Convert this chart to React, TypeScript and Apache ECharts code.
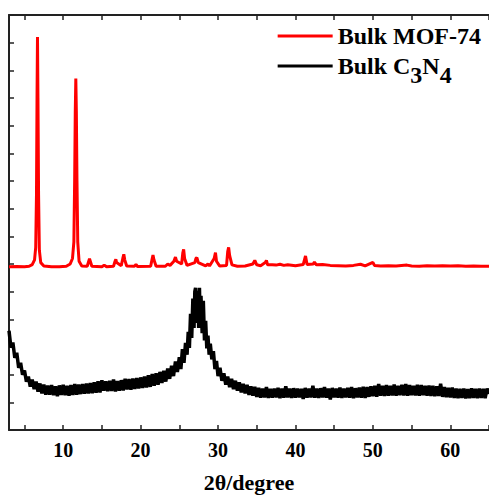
import React, { useEffect, useRef } from "react";
import * as echarts from "echarts";

const FONT = "'Liberation Serif', 'Times New Roman', serif";

const xTickValues = [5, 10, 15, 20, 25, 30, 35, 40, 45, 50, 55, 60, 65];
const xLabelValues = [10, 20, 30, 40, 50, 60];
const seriesNames = ["Bulk MOF-74", "Bulk C3N4"];

const mof74: number[][] = [
  [3.0, 5.9], [4.0, 5.91], [5.0, 5.9], [5.6, 5.92], [6.0, 5.98], [6.3, 6.15], [6.45, 6.6], [6.55, 8.5],
  [6.62, 12.0], [6.68, 14.2], [6.74, 12.0], [6.82, 8.5], [6.92, 6.5], [7.1, 6.05], [7.5, 5.93], [8.5, 5.9],
  [9.5, 5.9], [10.4, 5.92], [10.9, 6.0], [11.2, 6.2], [11.38, 6.8], [11.48, 9.0], [11.56, 11.5], [11.63, 12.7],
  [11.7, 11.5], [11.78, 9.0], [11.88, 6.8], [12.05, 6.1], [12.4, 5.93], [13.1, 5.92], [13.3, 6.1], [13.4, 6.19],
  [13.5, 6.1], [13.7, 5.92], [15.0, 5.9], [15.3, 5.96], [15.6, 5.9], [16.5, 5.92], [16.7, 6.1], [16.8, 6.17],
  [16.9, 6.05], [17.5, 5.94], [17.7, 6.2], [17.83, 6.35], [17.95, 6.15], [18.2, 5.93], [19.2, 5.92], [19.4, 5.98],
  [19.6, 5.91], [21.3, 5.92], [21.5, 6.2], [21.6, 6.32], [21.72, 6.15], [22.0, 5.92], [23.2, 5.92], [23.5, 6.0],
  [23.8, 5.95], [24.3, 6.1], [24.5, 6.25], [24.65, 6.1], [25.3, 6.0], [25.45, 6.4], [25.56, 6.53], [25.68, 6.2],
  [26.0, 5.95], [27.0, 6.05], [27.15, 6.2], [27.27, 6.23], [27.45, 6.05], [28.4, 5.93], [28.7, 6.0], [28.9, 5.93],
  [29.5, 6.2], [29.67, 6.41], [29.8, 6.1], [30.2, 5.93], [31.1, 5.95], [31.25, 6.45], [31.37, 6.6], [31.5, 6.3],
  [31.8, 5.97], [32.5, 5.92], [33.5, 5.93], [34.5, 6.0], [34.75, 6.13], [35.0, 5.97], [35.5, 5.94], [36.1, 6.05],
  [36.25, 6.13], [36.4, 5.97], [37.0, 5.97], [37.5, 5.96], [38.0, 5.99], [38.5, 5.95], [39.0, 5.97], [40.0, 5.94],
  [41.0, 5.98], [41.3, 6.29], [41.5, 5.98], [42.3, 6.0], [42.45, 6.07], [42.7, 5.97], [43.5, 5.98], [44.5, 5.95],
  [45.5, 5.94], [46.5, 5.93], [47.5, 5.95], [48.4, 5.99], [49.0, 5.93], [50.0, 6.06], [50.2, 5.95], [51.0, 5.93],
  [52.0, 5.94], [53.0, 5.93], [54.4, 5.96], [55.0, 5.93], [56.0, 5.92], [57.0, 5.94], [58.0, 5.93], [59.0, 5.94],
  [60.0, 5.93], [61.0, 5.94], [62.0, 5.92], [63.0, 5.93], [64.0, 5.92], [65.0, 5.92],
];

const c3n4: number[][] = [
  [3.0, 3.59], [3.25, 2.98], [3.5, 3.16], [3.75, 2.61], [4.0, 2.79], [4.25, 2.25], [4.5, 2.43], [4.75, 2.0],
  [5.0, 2.15], [5.25, 1.75], [5.5, 1.93], [5.75, 1.57], [6.0, 1.82], [6.25, 1.48], [6.5, 1.75], [6.75, 1.39],
  [7.0, 1.68], [7.25, 1.32], [7.5, 1.64], [7.75, 1.28], [8.0, 1.6], [8.25, 1.28], [8.5, 1.62], [8.75, 1.26],
  [9.0, 1.58], [9.25, 1.22], [9.5, 1.61], [9.75, 1.27], [10.0, 1.63], [10.25, 1.26], [10.5, 1.6], [10.75, 1.24],
  [11.0, 1.62], [11.25, 1.27], [11.5, 1.66], [11.75, 1.28], [12.0, 1.64], [12.25, 1.3], [12.5, 1.66], [12.75, 1.31],
  [13.0, 1.68], [13.25, 1.32], [13.5, 1.7], [13.75, 1.33], [14.0, 1.72], [14.25, 1.35], [14.5, 1.76], [14.75, 1.36],
  [15.0, 1.8], [15.25, 1.42], [15.5, 1.76], [15.75, 1.4], [16.0, 1.78], [16.25, 1.41], [16.5, 1.82], [16.75, 1.39],
  [17.0, 1.77], [17.25, 1.42], [17.5, 1.8], [17.75, 1.43], [18.0, 1.85], [18.25, 1.47], [18.5, 1.84], [18.75, 1.46],
  [19.0, 1.86], [19.25, 1.48], [19.5, 1.88], [19.75, 1.5], [20.0, 1.9], [20.25, 1.52], [20.5, 1.93], [20.75, 1.54],
  [21.0, 1.98], [21.25, 1.56], [21.5, 2.02], [21.75, 1.6], [22.0, 2.05], [22.25, 1.64], [22.5, 2.1], [22.75, 1.7],
  [23.0, 2.14], [23.25, 1.75], [23.5, 2.22], [23.75, 1.85], [24.0, 2.32], [24.25, 1.95], [24.5, 2.48], [24.75, 2.1],
  [25.0, 2.63], [25.2, 2.2], [25.4, 2.92], [25.6, 2.43], [25.8, 3.15], [26.0, 2.72], [26.15, 3.55], [26.3, 2.97],
  [26.45, 4.2], [26.6, 3.33], [26.75, 4.75], [26.9, 3.69], [27.0, 5.0], [27.1, 5.14], [27.2, 3.87], [27.3, 4.9],
  [27.4, 5.03], [27.5, 3.69], [27.6, 5.14], [27.7, 3.8], [27.8, 4.85], [27.95, 3.5], [28.1, 4.67], [28.25, 3.24],
  [28.4, 3.95], [28.55, 2.95], [28.7, 3.41], [28.85, 2.72], [29.0, 3.12], [29.2, 2.55], [29.4, 2.85], [29.6, 2.2],
  [29.8, 2.5], [30.0, 1.95], [30.25, 2.25], [30.5, 1.78], [30.75, 2.05], [31.0, 1.64], [31.25, 1.93], [31.5, 1.55],
  [31.75, 1.85], [32.0, 1.48], [32.25, 1.78], [32.5, 1.42], [32.75, 1.72], [33.0, 1.36], [33.25, 1.67], [33.5, 1.32],
  [33.75, 1.63], [34.0, 1.27], [34.25, 1.58], [34.5, 1.24], [34.75, 1.56], [35.0, 1.2], [35.25, 1.52], [35.5, 1.17],
  [35.75, 1.5], [36.0, 1.18], [36.25, 1.55], [36.5, 1.16], [36.75, 1.49], [37.0, 1.17], [37.25, 1.5], [37.5, 1.18],
  [37.75, 1.52], [38.0, 1.15], [38.25, 1.5], [38.5, 1.17], [38.75, 1.58], [39.0, 1.18], [39.25, 1.5], [39.5, 1.16],
  [39.75, 1.51], [40.0, 1.17], [40.25, 1.5], [40.5, 1.18], [40.75, 1.49], [41.0, 1.12], [41.25, 1.52], [41.5, 1.17],
  [41.75, 1.5], [42.0, 1.18], [42.25, 1.6], [42.5, 1.17], [42.75, 1.5], [43.0, 1.16], [43.25, 1.51], [43.5, 1.18],
  [43.75, 1.55], [44.0, 1.17], [44.25, 1.5], [44.5, 1.1], [44.75, 1.52], [45.0, 1.18], [45.25, 1.5], [45.5, 1.17],
  [45.75, 1.53], [46.0, 1.16], [46.25, 1.5], [46.5, 1.18], [46.75, 1.52], [47.0, 1.17], [47.25, 1.55], [47.5, 1.15],
  [47.75, 1.51], [48.0, 1.18], [48.25, 1.53], [48.5, 1.17], [48.75, 1.56], [49.0, 1.16], [49.25, 1.55], [49.5, 1.2],
  [49.75, 1.58], [50.0, 1.22], [50.25, 1.6], [50.5, 1.2], [50.75, 1.66], [51.0, 1.24], [51.25, 1.6], [51.5, 1.23],
  [51.75, 1.62], [52.0, 1.24], [52.25, 1.6], [52.5, 1.25], [52.75, 1.64], [53.0, 1.24], [53.25, 1.6], [53.5, 1.26],
  [53.75, 1.63], [54.0, 1.25], [54.25, 1.66], [54.5, 1.24], [54.75, 1.62], [55.0, 1.26], [55.25, 1.6], [55.5, 1.25],
  [55.75, 1.63], [56.0, 1.24], [56.25, 1.62], [56.5, 1.26], [56.75, 1.6], [57.0, 1.24], [57.25, 1.61], [57.5, 1.23],
  [57.75, 1.6], [58.0, 1.22], [58.25, 1.58], [58.5, 1.23], [58.75, 1.67], [59.0, 1.2], [59.25, 1.55], [59.5, 1.19],
  [59.75, 1.52], [60.0, 1.18], [60.25, 1.53], [60.5, 1.16], [60.75, 1.5], [61.0, 1.15], [61.25, 1.49], [61.5, 1.16],
  [61.75, 1.5], [62.0, 1.14], [62.25, 1.48], [62.5, 1.15], [62.75, 1.51], [63.0, 1.16], [63.25, 1.49], [63.5, 1.15],
  [63.75, 1.5], [64.0, 1.16], [64.25, 1.49], [64.5, 1.15], [64.75, 1.5], [65.0, 1.3],
];

export default function App() {
  const ref = useRef<HTMLDivElement>(null);
  useEffect(() => {
    if (!ref.current) return;
    const chart = echarts.init(ref.current, undefined, { renderer: "svg" });
    const axisLineStyle = { color: "#222", width: 2 };
    const option: any = {
      animation: false,
      backgroundColor: "#fff",
      grid: { left: 9, top: 15, width: 483, height: 416, containLabel: false },
      legend: {
        orient: "vertical",
        right: 3,
        top: 19,
        itemWidth: 55,
        itemHeight: 3,
        itemGap: 6,
        icon: "rect",
        data: seriesNames,
        formatter: (name: string) => (name === "Bulk C3N4" ? "Bulk C{s|3}N{s|4}" : name),
        textStyle: {
          fontFamily: FONT,
          fontWeight: "bold",
          fontSize: 24,
          color: "#000",
          rich: {
            s: { fontFamily: FONT, fontWeight: "bold", fontSize: 24, color: "#000", padding: [18, 0, 0, 0] },
          },
        },
      },
      xAxis: [
        {
          type: "value",
          position: "bottom",
          min: 3,
          max: 65,
          axisLine: { show: true, lineStyle: axisLineStyle },
          axisTick: { show: true, inside: true, length: 5, customValues: xTickValues, lineStyle: { color: "#222", width: 1.5 } },
          axisLabel: {
            show: true,
            customValues: xLabelValues,
            fontFamily: FONT,
            fontWeight: "bold",
            fontSize: 20,
            color: "#000",
            margin: 10,
          },
          splitLine: { show: false },
          name: "2θ/degree",
          nameLocation: "middle",
          nameGap: 41,
          nameTextStyle: { fontFamily: FONT, fontWeight: "bold", fontSize: 22, color: "#000" },
        },
        {
          type: "value",
          position: "top",
          min: 3,
          max: 65,
          axisLine: { show: true, lineStyle: axisLineStyle },
          axisTick: { show: true, inside: true, length: 5, customValues: xTickValues, lineStyle: { color: "#222", width: 1.5 } },
          axisLabel: { show: false },
          splitLine: { show: false },
        },
      ],
      yAxis: {
        type: "value",
        min: 0,
        max: 15,
        interval: 1,
        axisLine: { show: true, lineStyle: axisLineStyle },
        axisTick: { show: true, inside: true, length: 5, lineStyle: { color: "#222", width: 1.5 } },
        axisLabel: { show: false },
        splitLine: { show: false },
      },
      series: [
        {
          name: seriesNames[0],
          type: "line",
          data: mof74,
          showSymbol: false,
          symbol: "none",
          color: "#ff0000",
          lineStyle: { color: "#ff0000", width: 3 },
          z: 3,
        },
        {
          name: seriesNames[1],
          type: "line",
          data: c3n4,
          showSymbol: false,
          symbol: "none",
          color: "#000",
          lineStyle: { color: "#000", width: 3.5 },
          z: 2,
        },
      ],
    };
    chart.setOption(option);
    return () => chart.dispose();
  }, []);
  return <div ref={ref} style={{ position: "fixed", left: 0, top: 0, width: 489, height: 498 }} />;
}
